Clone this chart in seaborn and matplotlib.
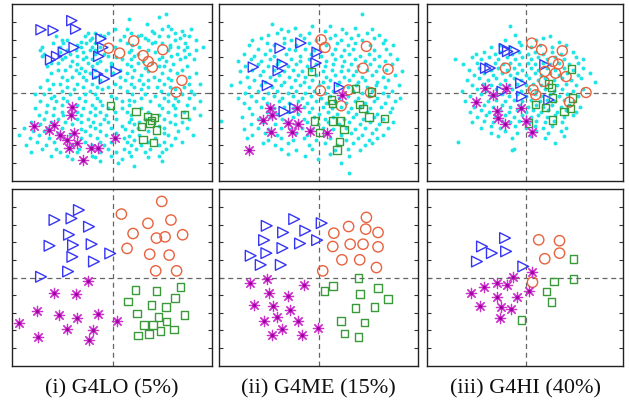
import matplotlib
matplotlib.use("Agg")
import matplotlib.pyplot as plt
import pandas as pd
import seaborn as sns

# captions below each column
captions = ["(i) G4LO (5%)", "(ii) G4ME (15%)", "(iii) G4HI (40%)"]

# ---------------- top row: noisy data (cyan) + 4 labelled classes ----------------
top_lo_cloud = [
    (3.0, 4.5), (2.6, 4.3), (0.9, 4.2), (1.9, 3.9), (3.1, 3.8),
    (0.1, 3.6), (0.8, 3.6), (2.2, 3.5), (2.8, 3.6), (3.3, 3.6), (3.9, 3.5), (4.4, 3.6),
    (-1.4, 3.4), (-1.0, 3.4), (-0.7, 3.3), (-0.3, 3.4), (1.0, 3.4), (1.6, 3.3), (2.3, 3.4), (3.5, 3.4), (4.0, 3.3),
    (-3.2, 3.2), (-1.6, 3.2), (-1.2, 3.1), (-0.5, 3.2), (0.6, 3.2), (1.4, 3.2), (1.8, 3.1), (2.6, 3.2), (3.1, 3.2), (3.8, 3.1), (4.3, 3.2),
    (-2.9, 3.0), (-2.6, 3.0), (-1.8, 2.9), (-1.3, 3.0), (0.4, 3.0), (2.0, 3.0), (2.4, 2.9), (3.5, 3.0), (4.7, 3.0),
    (-3.4, 2.8), (-2.8, 2.8), (-2.0, 2.7), (-1.5, 2.8), (-1.0, 2.8), (0.8, 2.8), (1.1, 2.7), (2.2, 2.8), (2.8, 2.8), (3.2, 2.7), (4.1, 2.8),
    (-4.0, 2.6), (-3.0, 2.6), (-1.8, 2.6), (-1.2, 2.6), (-0.7, 2.6), (0.1, 2.6), (1.5, 2.6), (3.2, 2.6), (3.7, 2.6), (4.2, 2.6), (5.1, 2.6),
    (-4.1, 2.4), (-2.6, 2.4), (-2.1, 2.4), (-1.3, 2.4), (-1.0, 2.4), (1.0, 2.4), (2.0, 2.4), (3.1, 2.4), (4.0, 2.4), (4.7, 2.4),
    (-3.9, 2.2), (-3.0, 2.3), (-2.4, 2.2), (-1.7, 2.3), (-1.0, 2.2), (-0.5, 2.2), (0.9, 2.3), (1.4, 2.2), (2.4, 2.3), (3.6, 2.2), (4.3, 2.2),
    (-4.0, 2.1), (-2.7, 2.0), (-2.0, 2.1), (-1.5, 2.0), (-0.3, 2.1), (0.2, 2.0), (1.2, 2.1), (2.8, 2.0), (3.3, 2.1), (4.1, 2.0),
    (-2.9, 1.9), (-2.3, 1.8), (-1.7, 1.9), (-1.2, 1.9), (-0.7, 1.8), (0.5, 1.9), (1.0, 1.9), (1.7, 1.8), (2.6, 1.9), (3.0, 1.8), (3.8, 1.9), (4.6, 1.9),
    (-3.5, 1.7), (-3.1, 1.7), (-2.0, 1.6), (-1.4, 1.7), (-0.9, 1.7), (-0.1, 1.7), (0.8, 1.6), (1.4, 1.7), (2.2, 1.7), (3.4, 1.6),
    (-3.7, 1.5), (-2.4, 1.5), (-1.8, 1.4), (-1.2, 1.5), (-0.1, 1.5), (1.0, 1.5), (1.8, 1.4), (2.6, 1.5), (2.9, 1.5), (4.2, 1.5),
    (-3.1, 1.3), (-2.7, 1.3), (-2.1, 1.3), (-1.6, 1.2), (-1.0, 1.3), (-0.4, 1.3), (0.4, 1.3), (1.2, 1.3), (2.0, 1.2), (3.2, 1.3), (3.9, 1.3),
    (-3.5, 1.1), (-1.9, 1.1), (-1.3, 1.1), (0.0, 1.1), (0.8, 1.1), (1.6, 1.0), (2.8, 1.1), (3.6, 1.1), (4.7, 1.1),
    (-2.9, 0.9), (-2.3, 0.9), (-1.7, 0.9), (-1.0, 0.9), (0.4, 0.9), (1.1, 0.9), (2.3, 0.9), (3.1, 0.8), (4.3, 0.9),
    (-3.7, 0.7), (-2.6, 0.7), (-1.5, 0.7), (-0.7, 0.7), (0.7, 0.7), (1.5, 0.7), (2.0, 0.7), (2.6, 0.7), (3.3, 0.7),
    (-3.4, 0.5), (-3.0, 0.5), (-2.0, 0.5), (-1.2, 0.5), (0.1, 0.5), (1.0, 0.5), (1.7, 0.5), (2.9, 0.5), (4.3, 0.5), (4.9, 0.5),
    (-4.1, 0.3), (-2.6, 0.3), (-1.7, 0.3), (-0.9, 0.3), (-0.3, 0.3), (0.4, 0.3), (1.2, 0.3), (2.0, 0.3), (2.5, 0.3), (3.2, 0.3), (4.0, 0.3),
    (-3.6, 0.2), (-2.9, 0.1), (-2.2, 0.2), (-1.3, 0.1), (-0.6, 0.2), (0.8, 0.1), (1.6, 0.2), (2.7, 0.1), (3.5, 0.2), (4.4, 0.1),
    (-4.4, -0.1), (-3.9, -0.1), (-3.3, -0.2), (-2.4, -0.1), (-1.6, -0.1), (-1.0, -0.1), (-0.1, -0.2), (1.1, -0.1), (1.8, -0.1), (2.4, -0.2), (3.1, -0.1), (3.9, -0.1), (4.6, -0.1),
    (-3.5, -0.3), (-2.8, -0.3), (-1.9, -0.3), (-0.9, -0.3), (0.2, -0.3), (0.9, -0.4), (1.6, -0.3), (2.9, -0.3), (3.5, -0.3), (4.3, -0.3),
    (-4.1, -0.5), (-3.2, -0.5), (-2.6, -0.5), (-1.6, -0.5), (-0.7, -0.5), (0.5, -0.5), (1.2, -0.5), (2.1, -0.5), (3.1, -0.5), (3.7, -0.5), (4.9, -0.5),
    (-3.7, -0.7), (-2.9, -0.7), (-2.0, -0.7), (-1.2, -0.7), (-0.6, -0.7), (0.9, -0.7), (2.6, -0.7), (3.4, -0.7), (4.2, -0.7),
    (-4.4, -0.9), (-3.3, -0.9), (-1.7, -0.9), (-1.0, -0.9), (-0.3, -0.9), (0.5, -0.9), (1.6, -0.9), (2.8, -0.9), (3.5, -0.9), (4.6, -0.9),
    (-3.8, -1.1), (-2.9, -1.1), (-2.0, -1.1), (-1.3, -1.1), (-0.7, -1.1), (0.1, -1.1), (0.8, -1.1), (2.0, -1.1), (3.1, -1.1), (4.0, -1.1),
    (-4.2, -1.3), (-3.4, -1.3), (-2.8, -1.3), (-1.8, -1.3), (-1.0, -1.3), (-0.4, -1.3), (1.0, -1.3), (2.6, -1.3), (3.5, -1.3), (4.9, -1.3),
    (-3.9, -1.5), (-3.1, -1.5), (-2.0, -1.5), (-1.4, -1.5), (-0.5, -1.5), (0.2, -1.5), (1.0, -1.5), (1.8, -1.5), (2.9, -1.5), (4.3, -1.5),
    (-4.6, -1.7), (-3.5, -1.7), (-2.7, -1.7), (-1.8, -1.7), (-1.1, -1.7), (-0.3, -1.7), (0.9, -1.7), (1.5, -1.7), (3.2, -1.7), (3.9, -1.7),
    (-4.1, -1.8), (-3.3, -1.9), (-2.3, -1.8), (-1.3, -1.9), (-0.7, -1.8), (0.5, -1.9), (1.2, -1.8), (2.6, -1.9), (3.5, -1.8),
    (-5.0, -2.0), (-3.7, -2.0), (-2.9, -2.0), (-1.8, -2.1), (-1.0, -2.0), (-0.1, -2.0), (0.7, -2.1), (1.4, -2.0), (2.9, -2.0), (4.2, -2.0),
    (-4.5, -2.2), (-3.9, -2.2), (-3.1, -2.3), (-1.6, -2.2), (-0.7, -2.2), (0.2, -2.3), (1.1, -2.2), (2.0, -2.2), (2.9, -2.3), (3.7, -2.2),
    (-5.3, -2.4), (-4.2, -2.4), (-2.4, -2.4), (-1.3, -2.4), (-0.4, -2.4), (0.9, -2.5), (1.5, -2.4), (3.1, -2.4), (4.5, -2.4),
    (-4.7, -2.6), (-3.6, -2.6), (-3.0, -2.6), (-1.8, -2.6), (-0.9, -2.6), (0.6, -2.6), (1.2, -2.7), (2.4, -2.6), (3.5, -2.6),
    (-4.3, -2.8), (-3.3, -2.8), (-1.6, -2.8), (-0.7, -2.8), (-0.1, -2.8), (0.8, -2.8), (2.0, -2.8), (2.9, -2.8), (3.9, -2.8),
    (-4.9, -3.0), (-3.8, -3.0), (-2.3, -3.0), (-1.2, -3.0), (-0.5, -3.0), (1.0, -3.0), (1.6, -3.0), (2.6, -3.0), (3.3, -3.0),
    (-4.0, -3.2), (-3.2, -3.2), (-1.9, -3.2), (-0.3, -3.2), (0.6, -3.2), (1.3, -3.2), (2.1, -3.2), (3.0, -3.2),
    (-4.6, -3.4), (-3.0, -3.4), (-2.0, -3.4), (-0.7, -3.4), (0.2, -3.4), (0.9, -3.4), (1.8, -3.4), (2.8, -3.4),
    (-3.5, -3.6), (-2.6, -3.6), (-1.2, -3.6), (-0.1, -3.6), (1.0, -3.6), (2.6, -3.6),
    (-2.3, -3.8), (-1.0, -3.7), (0.5, -3.8), (2.0, -3.7), (-0.7, -3.9), (0.3, -4.0), (2.8, -3.9), (1.2, -4.2),
]
top_lo_tri = [(-4.06, 3.58), (-3.37, 3.54), (-2.32, 4.10), (-2.10, 3.62), (-3.52, 1.87), (-3.18, 2.06),
              (-2.80, 2.30), (-2.19, 2.57), (-0.67, 3.07), (-0.57, 2.57), (-0.80, 2.06), (-0.86, 1.05),
              (-0.48, 0.78), (0.19, 1.20)]
top_lo_cir = [(-0.25, 2.53), (0.38, 2.25), (1.18, 2.95), (1.71, 2.11), (2.0, 1.77), (2.23, 1.45),
              (2.82, 2.44), (3.90, 0.69), (3.58, 0.02)]
top_lo_sq = [(-0.13, -0.74), (1.30, -1.09), (1.96, -1.37), (2.34, -1.43), (4.06, -1.24), (1.62, -1.94),
             (2.10, -1.75), (2.48, -2.13), (1.71, -2.70), (2.29, -2.84), (2.20, -1.60)]
top_lo_star = [(-2.29, -0.80), (-2.38, -1.28), (-4.48, -1.94), (-3.62, -2.13), (-3.33, -1.85), (-2.99, -2.42),
               (-2.57, -2.70), (-2.19, -2.32), (-2.0, -2.90), (-2.48, -3.18), (-1.24, -3.18), (-0.86, -3.18),
               (-1.71, -3.85), (0.10, -2.61)]

top_me_cloud = [
    (2.4, 4.5), (-2.7, 3.9), (-2.2, 3.6), (-1.4, 3.7), (-0.4, 3.8), (0.6, 3.8), (1.3, 3.6), (2.0, 3.7), (3.0, 3.6),
    (-2.9, 3.3), (-2.4, 3.4), (-1.8, 3.5), (-1.1, 3.3), (-0.6, 3.4), (0.3, 3.5), (0.9, 3.3), (1.5, 3.4), (2.2, 3.3), (2.7, 3.4), (3.4, 3.3),
    (-3.8, 3.0), (-3.3, 3.1), (-2.0, 3.1), (-1.6, 3.0), (-0.9, 3.1), (-0.2, 3.0), (0.6, 3.1), (1.2, 3.0), (1.8, 3.1), (2.4, 3.0), (3.1, 3.1), (3.7, 3.0),
    (-4.0, 2.7), (-3.0, 2.8), (-2.6, 2.7), (-2.0, 2.8), (-1.3, 2.7), (-0.6, 2.8), (0.4, 2.7), (1.0, 2.8), (1.6, 2.7), (2.0, 2.8), (2.9, 2.7), (3.6, 2.8), (4.2, 2.7),
    (-3.5, 2.5), (-2.8, 2.4), (-1.7, 2.5), (-1.4, 2.4), (-0.8, 2.5), (-0.3, 2.4), (0.9, 2.5), (1.4, 2.4), (1.9, 2.5), (3.1, 2.4), (3.8, 2.5),
    (-4.3, 2.2), (-3.7, 2.1), (-3.1, 2.2), (-2.6, 2.1), (-1.9, 2.2), (-1.1, 2.1), (-0.5, 2.2), (0.1, 2.1), (0.7, 2.2), (1.2, 2.1), (1.7, 2.2), (2.3, 2.1), (2.8, 2.2), (3.4, 2.1), (4.0, 2.2),
    (-4.6, 1.8), (-3.9, 1.9), (-3.3, 1.8), (-2.8, 1.9), (-2.3, 1.8), (-1.6, 1.9), (-1.1, 1.8), (-0.6, 1.9), (0.4, 1.8), (0.9, 1.9), (1.4, 1.8), (2.0, 1.9), (2.6, 1.8), (3.1, 1.9), (3.7, 1.8), (4.4, 1.9),
    (-4.2, 1.5), (-3.5, 1.6), (-2.9, 1.5), (-2.4, 1.6), (-1.8, 1.5), (-1.3, 1.6), (-0.7, 1.5), (-0.2, 1.6), (0.3, 1.5), (0.8, 1.6), (1.3, 1.5), (1.8, 1.6), (2.2, 1.5), (2.9, 1.6), (3.4, 1.5), (4.1, 1.6),
    (-4.5, 1.2), (-3.8, 1.3), (-3.2, 1.2), (-2.6, 1.3), (-2.0, 1.2), (-1.5, 1.3), (-1.0, 1.2), (-0.5, 1.3), (0.2, 1.2), (0.7, 1.3), (1.2, 1.2), (1.6, 1.3), (2.1, 1.2), (2.7, 1.3), (3.2, 1.2), (3.8, 1.3), (4.7, 1.2),
    (-4.1, 0.9), (-3.4, 1.0), (-2.8, 0.9), (-2.3, 1.0), (-1.7, 0.9), (-1.2, 1.0), (-0.8, 0.9), (-0.2, 1.0), (0.4, 0.9), (0.9, 1.0), (1.4, 0.9), (1.9, 1.0), (2.4, 0.9), (3.0, 1.0), (3.6, 0.9), (4.3, 1.0),
    (-4.5, 0.6), (-3.7, 0.7), (-3.1, 0.6), (-2.5, 0.7), (-2.0, 0.6), (-1.4, 0.7), (-0.9, 0.6), (-0.4, 0.7), (0.2, 0.6), (0.6, 0.7), (1.1, 0.6), (1.7, 0.7), (2.2, 0.6), (2.6, 0.7), (3.3, 0.6), (3.9, 0.7),
    (-5.0, 0.4), (-4.0, 0.3), (-3.3, 0.4), (-2.7, 0.3), (-2.2, 0.4), (-1.6, 0.3), (-1.1, 0.4), (-0.6, 0.3), (0.0, 0.4), (0.5, 0.3), (1.0, 0.4), (1.6, 0.3), (2.1, 0.4), (2.7, 0.3), (3.2, 0.4), (3.7, 0.3), (4.5, 0.4),
    (-4.2, 0.0), (-3.5, 0.1), (-2.9, 0.0), (-2.4, 0.1), (-1.8, 0.0), (-1.3, 0.1), (-0.8, 0.0), (-0.3, 0.1), (0.3, 0.0), (0.8, 0.1), (1.3, 0.0), (1.9, 0.1), (2.4, 0.0), (3.0, 0.1), (3.6, 0.0), (4.1, 0.1),
    (-4.6, -0.3), (-3.9, -0.2), (-3.2, -0.3), (-2.6, -0.2), (-2.1, -0.3), (-1.5, -0.2), (-1.0, -0.3), (-0.5, -0.2), (0.1, -0.3), (0.6, -0.2), (1.1, -0.3), (1.6, -0.2), (2.2, -0.3), (2.8, -0.2), (3.3, -0.3), (3.9, -0.2), (4.6, -0.3),
    (-4.3, -0.6), (-3.6, -0.5), (-3.0, -0.6), (-2.3, -0.5), (-1.7, -0.6), (-1.2, -0.5), (-0.7, -0.6), (-0.2, -0.5), (0.4, -0.6), (0.9, -0.5), (1.5, -0.6), (2.0, -0.5), (2.6, -0.6), (3.1, -0.5), (3.7, -0.6), (4.3, -0.5),
    (-4.0, -0.9), (-3.3, -0.8), (-2.6, -0.9), (-2.0, -0.8), (-1.5, -0.9), (-0.9, -0.8), (-0.4, -0.9), (0.2, -0.8), (0.7, -0.9), (1.2, -0.8), (1.8, -0.9), (2.3, -0.8), (2.9, -0.9), (3.5, -0.8), (4.1, -0.9),
    (-3.8, -1.2), (-3.0, -1.1), (-2.4, -1.2), (-1.8, -1.1), (-1.2, -1.2), (-0.6, -1.1), (0.0, -1.2), (0.5, -1.1), (1.0, -1.2), (1.6, -1.1), (2.1, -1.2), (2.7, -1.1), (3.3, -1.2), (4.0, -1.1),
    (-5.6, -1.6), (-4.4, -1.4), (-3.5, -1.5), (-2.8, -1.4), (-2.1, -1.5), (-1.5, -1.4), (-0.9, -1.5), (-0.3, -1.4), (0.3, -1.5), (0.8, -1.4), (1.4, -1.5), (1.9, -1.4), (2.5, -1.5), (3.1, -1.4), (3.6, -1.5),
    (-3.9, -1.8), (-3.2, -1.7), (-2.5, -1.8), (-1.9, -1.7), (-1.3, -1.8), (-0.7, -1.7), (-0.1, -1.8), (0.5, -1.7), (1.1, -1.8), (1.7, -1.7), (2.3, -1.8), (2.9, -1.7), (3.4, -1.8), (4.2, -1.7),
    (-4.3, -2.1), (-3.5, -2.0), (-2.9, -2.1), (-2.2, -2.0), (-1.6, -2.1), (-1.0, -2.0), (-0.4, -2.1), (0.2, -2.0), (0.8, -2.1), (1.5, -2.0), (2.0, -2.1), (2.6, -2.0), (3.2, -2.1), (3.9, -2.0),
    (-3.8, -2.4), (-3.1, -2.3), (-2.4, -2.4), (-1.3, -2.3), (-0.7, -2.4), (0.4, -2.3), (1.2, -2.4), (1.8, -2.3), (2.4, -2.4), (3.0, -2.3), (3.6, -2.4),
    (-4.1, -2.6), (-2.9, -2.7), (-2.2, -2.6), (-1.5, -2.7), (-0.9, -2.6), (-0.2, -2.7), (0.6, -2.6), (1.5, -2.7), (2.2, -2.6), (2.8, -2.7), (3.3, -2.6),
    (-3.2, -2.9), (-2.5, -3.0), (-1.8, -2.9), (-0.6, -3.0), (0.3, -2.9), (1.0, -3.0), (1.9, -2.9), (2.6, -3.0), (3.0, -2.9),
    (-2.2, -3.2), (-1.3, -3.3), (-0.4, -3.2), (0.9, -3.3), (1.6, -3.2), (2.3, -3.3),
    (-1.8, -3.5), (-0.8, -3.6), (0.6, -3.5), (1.7, -3.6), (-0.1, -3.8), (1.2, -4.0), (1.7, -4.6),
]
top_me_tri = [(-3.75, 1.45), (-2.95, 0.40), (-2.23, 2.53), (-2.10, 1.62), (-2.34, 1.24), (-1.05, 2.82),
              (-0.13, 2.30), (-0.19, 1.68), (1.14, 0.29), (-2.0, -1.09), (-1.39, -0.90)]
top_me_cir = [(0.10, 3.01), (0.32, 2.57), (2.67, 2.63), (2.48, 1.39), (3.90, 1.33), (0.06, 0.10),
              (1.66, 0.15), (2.90, 0.0), (1.24, -0.76)]
top_me_sq = [(-0.44, 1.20), (2.04, 0.21), (2.95, 0.02), (0.67, -0.42), (0.76, -0.61), (2.29, -0.70),
             (2.48, -0.90), (2.82, -1.39), (3.71, -1.50), (-0.29, -1.62), (0.76, -1.62), (1.20, -1.62),
             (1.39, -2.10), (0.0, -2.30), (1.14, -2.80), (1.01, -3.28)]
top_me_star = [(-2.80, -0.90), (-2.67, -1.28), (-3.18, -1.56), (-2.76, -2.23), (-1.77, -1.75), (-1.20, -1.81),
               (-1.58, -2.23), (-1.28, -0.86), (-0.51, -2.19), (0.44, -2.32), (-4.0, -3.28), (1.28, -0.13)]

top_hi_cloud = [
    (-0.9, 3.8), (-0.6, 3.3), (1.4, 3.2), (-1.2, 3.0), (-0.4, 2.9), (0.6, 3.0), (1.0, 3.1), (1.9, 2.9),
    (-2.0, 2.6), (-1.5, 2.7), (-0.9, 2.6), (-0.3, 2.7), (0.3, 2.6), (0.8, 2.7), (1.5, 2.6), (2.3, 2.7),
    (-2.9, 2.2), (-2.4, 2.3), (-1.8, 2.2), (-1.5, 2.3), (-0.8, 2.2), (-0.4, 2.3), (0.1, 2.2), (0.5, 2.3), (1.0, 2.2), (1.5, 2.3), (2.0, 2.2), (2.7, 2.3),
    (-4.1, 1.9), (-3.1, 2.0), (-2.6, 1.9), (-2.1, 2.0), (-1.6, 1.9), (-1.1, 2.0), (-0.6, 1.9), (-0.2, 2.0), (0.3, 1.9), (0.7, 2.0), (1.2, 1.9), (1.7, 2.0), (2.2, 1.9), (2.9, 2.0), (3.3, 1.9),
    (-3.6, 1.6), (-2.8, 1.7), (-2.3, 1.6), (-1.8, 1.7), (-1.3, 1.6), (-0.9, 1.7), (-0.4, 1.6), (0.1, 1.7), (0.5, 1.6), (1.0, 1.7), (1.4, 1.6), (1.9, 1.7), (2.5, 1.6), (3.0, 1.7),
    (-3.3, 1.3), (-2.7, 1.4), (-2.0, 1.3), (-1.6, 1.4), (-1.1, 1.3), (-0.7, 1.4), (-0.2, 1.3), (0.3, 1.4), (0.7, 1.3), (1.2, 1.4), (1.7, 1.3), (2.2, 1.4), (2.7, 1.3), (3.3, 1.4),
    (-3.0, 1.0), (-2.4, 1.1), (-1.9, 1.0), (-1.4, 1.1), (-0.9, 1.0), (-0.5, 1.1), (0.0, 1.0), (0.5, 1.1), (0.9, 1.0), (1.4, 1.1), (1.9, 1.0), (2.4, 1.1), (3.0, 1.0), (3.7, 1.1),
    (-3.4, 0.7), (-2.7, 0.8), (-2.2, 0.7), (-1.7, 0.8), (-1.2, 0.7), (-0.7, 0.8), (-0.3, 0.7), (0.2, 0.8), (0.7, 0.7), (1.1, 0.8), (1.6, 0.7), (2.1, 0.8), (2.6, 0.7), (3.2, 0.8), (4.0, 0.6),
    (-3.1, 0.4), (-2.5, 0.5), (-2.0, 0.4), (-1.5, 0.5), (-1.0, 0.4), (-0.5, 0.5), (0.0, 0.4), (0.4, 0.5), (0.9, 0.4), (1.3, 0.5), (1.8, 0.4), (2.3, 0.5), (2.9, 0.4),
    (-3.7, 0.1), (-2.8, 0.2), (-2.3, 0.1), (-1.7, 0.2), (-1.2, 0.1), (-0.8, 0.2), (-0.3, 0.1), (0.2, 0.2), (0.6, 0.1), (1.1, 0.2), (1.6, 0.1), (2.1, 0.2), (2.7, 0.1), (3.3, 0.2),
    (-3.2, -0.2), (-2.6, -0.1), (-2.0, -0.2), (-1.4, -0.1), (-1.0, -0.2), (-0.5, -0.1), (0.0, -0.2), (0.5, -0.1), (0.9, -0.2), (1.4, -0.1), (1.9, -0.2), (2.4, -0.1), (3.0, -0.2),
    (-3.5, -0.5), (-2.8, -0.4), (-2.2, -0.5), (-1.7, -0.4), (-1.2, -0.5), (-0.7, -0.4), (-0.2, -0.5), (0.3, -0.4), (0.8, -0.5), (1.2, -0.4), (1.7, -0.5), (2.2, -0.4), (2.8, -0.5),
    (-3.0, -0.8), (-2.4, -0.7), (-1.9, -0.8), (-1.4, -0.7), (-0.9, -0.8), (-0.4, -0.7), (0.1, -0.8), (0.6, -0.7), (1.0, -0.8), (1.5, -0.7), (2.0, -0.8), (2.5, -0.7), (3.1, -0.8),
    (-3.2, -1.1), (-2.6, -1.0), (-2.1, -1.1), (-1.5, -1.0), (-1.0, -1.1), (-0.5, -1.0), (0.0, -1.1), (0.4, -1.0), (0.9, -1.1), (1.3, -1.0), (1.8, -1.1), (2.3, -1.0), (2.9, -1.1),
    (-2.8, -1.4), (-2.3, -1.3), (-1.8, -1.4), (-1.2, -1.3), (-0.7, -1.4), (-0.2, -1.3), (0.3, -1.4), (0.7, -1.3), (1.2, -1.4), (1.7, -1.3), (2.2, -1.4), (2.7, -1.3),
    (-3.1, -1.7), (-2.4, -1.6), (-1.9, -1.7), (-1.4, -1.6), (-0.9, -1.7), (-0.4, -1.6), (0.2, -1.7), (0.6, -1.6), (1.1, -1.7), (1.6, -1.6), (2.1, -1.7),
    (-2.6, -2.0), (-2.0, -1.9), (-1.5, -2.0), (-0.6, -1.9), (0.0, -2.0), (0.5, -1.9), (1.0, -2.0), (1.5, -1.9), (2.3, -2.0),
    (-2.0, -2.3), (-1.2, -2.2), (-0.5, -2.3), (0.6, -2.2), (1.3, -2.3), (2.0, -2.2),
    (-1.6, -2.5), (-0.8, -2.6), (0.3, -2.5), (1.1, -2.6), (2.2, -2.5), (-0.7, -3.2), (1.7, -2.9), (-3.9, -2.8), (-0.8, -3.3),
]
top_hi_tri = [(-1.24, 2.50), (-1.05, 2.34), (-0.67, 2.38), (-2.32, 1.39), (-2.06, 1.39), (-1.37, 0.06),
              (-0.29, 0.53), (-0.23, -0.23), (1.10, 1.58), (1.33, -0.42)]
top_hi_cir = [(0.34, 2.82), (0.91, 2.44), (2.10, 2.38), (1.56, 1.77), (1.87, 1.62), (1.71, 1.10), (2.32, 0.91),
              (1.10, 1.20), (1.05, 0.63), (-1.18, 1.39), (0.42, 0.15), (0.57, -0.13), (2.51, -0.55), (3.47, 0.0)]
top_hi_sq = [(2.63, 1.35), (1.49, 0.29), (1.30, 0.48), (1.52, -0.32), (2.67, -0.32), (0.57, -0.70),
             (1.14, -0.86), (2.19, -1.09), (2.57, -0.90), (1.52, -1.56), (0.15, -1.75)]
top_hi_star = [(-2.38, 0.25), (-1.14, 0.25), (-1.90, -0.13), (-2.86, -0.55), (-1.68, -1.05), (-1.62, -1.47),
               (-1.18, -1.81), (-0.29, -0.90), (0.0, -1.62), (0.38, -2.27)]

# ---------------- bottom row: the learned embedding, classes only ----------------
bot_lo_tri = [(-1.92, 3.85), (-3.30, 3.28), (-2.34, 3.37), (-1.35, 2.90), (-2.48, 2.44), (-3.58, 1.81), (-2.25, 1.85),
              (-1.20, 1.90), (-2.29, 1.18), (-1.07, 0.91), (-0.15, 1.37), (-2.53, 0.34), (-4.06, 0.04)]
bot_lo_cir = [(2.76, 4.34), (0.48, 3.62), (1.98, 3.09), (3.28, 3.28), (1.14, 2.51), (2.46, 2.25), (2.95, 2.32),
              (3.94, 2.44), (0.80, 1.66), (2.08, 1.33), (3.18, 1.28), (2.42, 0.38), (3.60, 0.38)]
bot_lo_sq = [(1.28, -0.72), (2.46, -0.76), (3.81, -0.53), (0.86, -1.37), (2.19, -1.56), (2.99, -1.68), (3.50, -1.18),
             (1.37, -2.06), (2.57, -2.25), (4.04, -2.13), (1.75, -2.70), (2.27, -2.70), (3.03, -2.51), (1.43, -3.30),
             (2.04, -3.24), (2.70, -3.05), (3.47, -2.97)]
bot_lo_star = [(-1.43, -0.19), (-3.30, -0.91), (-2.06, -0.95), (-4.29, -1.90), (-3.07, -2.13), (-2.0, -2.32),
               (-0.86, -2.10), (0.23, -2.51), (-5.30, -2.57), (-2.59, -2.95), (-1.10, -2.99), (-4.21, -3.37),
               (-1.35, -3.56)]

bot_me_tri = [(-1.43, 3.33), (-2.99, 2.95), (-2.06, 2.57), (-0.80, 2.67), (0.13, 3.10), (-3.14, 2.13), (-1.10, 1.94),
              (-0.13, 2.13), (-2.10, 1.68), (-3.01, 1.39), (-3.90, 1.24), (-3.33, 0.72), (-2.19, 0.72)]
bot_me_cir = [(2.67, 3.43), (1.66, 2.91), (2.63, 2.76), (0.82, 2.53), (3.33, 2.57), (0.76, 1.77), (1.75, 1.90),
              (2.48, 1.90), (3.33, 1.75), (1.28, 1.01), (2.29, 1.01), (3.24, 0.57), (0.19, 0.38)]
bot_me_sq = [(2.23, -0.04), (0.76, -0.48), (0.29, -0.76), (3.33, -0.61), (2.29, -0.95), (3.90, -1.24),
             (2.06, -1.75), (3.14, -1.68), (1.24, -2.48), (2.57, -2.57), (1.43, -3.20), (2.23, -3.39)]
bot_me_star = [(-3.96, -0.29), (-2.99, -0.10), (-0.86, -0.44), (-2.86, -0.86), (-1.81, -1.05), (-3.71, -1.56),
               (-2.63, -1.62), (-1.66, -1.87), (-2.42, -2.25), (-3.14, -2.48), (-1.20, -2.48), (-2.15, -2.95),
               (-0.06, -2.86), (-2.67, -3.30), (-1.01, -3.30)]

bot_hi_tri = [(-1.20, 2.25), (-1.14, 1.49), (-2.53, 1.77), (-1.96, 1.39), (-2.82, 0.91), (-0.15, 0.63)]
bot_hi_cir = [(0.74, 2.15), (1.94, 2.10), (1.09, 1.07), (1.94, 1.39), (0.38, -0.27)]
bot_hi_sq = [(2.74, 1.07), (2.74, -0.10), (1.62, -0.23), (1.18, -0.80), (1.47, -1.41), (-0.25, -2.42)]
bot_hi_star = [(0.38, 0.30), (-0.72, 0.02), (-1.64, -0.32), (-1.07, -0.42), (-2.40, -0.57), (-3.14, -0.90),
               (-1.68, -1.09), (-0.53, -1.09), (0.17, -0.76), (-2.63, -1.60), (-1.45, -1.66), (-0.86, -1.79),
               (-1.49, -2.29)]

panels = [
    [(top_lo_cloud, top_lo_tri, top_lo_cir, top_lo_sq, top_lo_star),
     (top_me_cloud, top_me_tri, top_me_cir, top_me_sq, top_me_star),
     (top_hi_cloud, top_hi_tri, top_hi_cir, top_hi_sq, top_hi_star)],
    [(None, bot_lo_tri, bot_lo_cir, bot_lo_sq, bot_lo_star),
     (None, bot_me_tri, bot_me_cir, bot_me_sq, bot_me_star),
     (None, bot_hi_tri, bot_hi_cir, bot_hi_sq, bot_hi_star)],
]

c_cloud = "#1ee6e6"
c_tri = "#3535f5"
c_cir = "#e8623e"
c_sq = "#3a9a3a"
c_star = "#cc33cc"


def to_df(pts):
    return pd.DataFrame(pts, columns=["x", "y"])


sns.set_theme(style="white")
W, H = 629, 406
fig = plt.figure(figsize=(W / 100, H / 100), dpi=100)

col_left = [12, 219, 427]
col_width = [200, 199, 196]
row_top = [5, 190]
row_h = 177

for r in range(2):
    for c in range(3):
        rect = [col_left[c] / W, 1 - (row_top[r] + row_h) / H, col_width[c] / W, row_h / H]
        ax = fig.add_axes(rect)
        cloud, tri, cir, sq, star = panels[r][c]
        ax.axhline(0, color="#666666", ls=(0, (4, 3)), lw=0.9, zorder=1)
        ax.axvline(0, color="#666666", ls=(0, (4, 3)), lw=0.9, zorder=1)
        if cloud is not None:
            d = to_df(cloud)
            sns.scatterplot(data=d, x="x", y="y", ax=ax, color=c_cloud, s=8,
                            linewidth=0, marker="o", zorder=2)
        big = r == 1
        d = to_df(tri)
        sns.scatterplot(data=d, x="x", y="y", ax=ax, marker=">", s=60 if big else 54,
                        color=c_tri, facecolor="none", edgecolor=c_tri, linewidth=1.0, zorder=3)
        d = to_df(cir)
        sns.scatterplot(data=d, x="x", y="y", ax=ax, marker="o", s=55 if big else 52,
                        color=c_cir, facecolor="none", edgecolor=c_cir, linewidth=1.0, zorder=3)
        d = to_df(sq)
        sns.scatterplot(data=d, x="x", y="y", ax=ax, marker="s", s=30 if big else 28,
                        color=c_sq, facecolor="none", edgecolor=c_sq, linewidth=1.0, zorder=3)
        d = to_df(star)
        sns.scatterplot(data=d, x="x", y="y", ax=ax, marker=(8, 2, 0), s=55,
                        color=c_star, edgecolor=c_star, linewidth=0.9, zorder=3)
        sns.scatterplot(data=d, x="x", y="y", ax=ax, marker="o", s=6,
                        color="#a000a0", linewidth=0, zorder=4)

        ax.set_xlim(-5.7, 5.6)
        ax.set_ylim(-5.05, 5.05)
        ax.set_yticks(range(-4, 5))
        ax.set_xticks([])
        ax.set_xlabel("")
        ax.set_ylabel("")
        ax.tick_params(axis="y", direction="in", left=True, right=True, length=3,
                       width=0.8, color="#333333", labelleft=False, labelright=False)
        for sp in ax.spines.values():
            sp.set_color("#222222")
            sp.set_linewidth(1.0)

        if r == 1:
            cx = (col_left[c] + col_width[c] / 2) / W
            fig.text(cx, 1 - 389 / H, captions[c], ha="center", va="center",
                     family=["Liberation Serif", "DejaVu Serif"], fontsize=16, color="#111111")

fig.savefig("out.png", dpi=100)
